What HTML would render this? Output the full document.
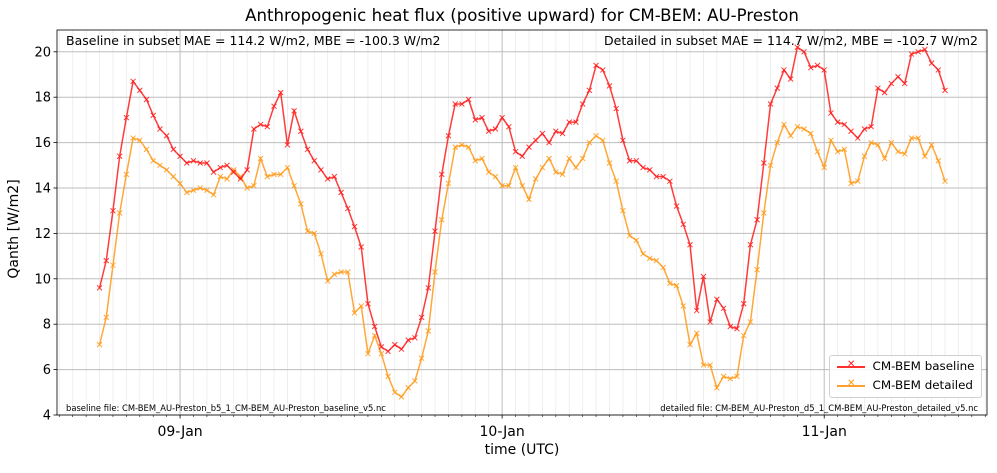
<!DOCTYPE html>
<html><head><meta charset="utf-8"><style>
body{margin:0;background:#fff;font-family:"Liberation Sans","DejaVu Sans",sans-serif}
</style></head><body>
<svg id="chart" width="997" height="468" viewBox="0 0 997 468" xmlns="http://www.w3.org/2000/svg" font-family="DejaVu Sans, Liberation Sans, sans-serif"></svg>
<script>
const startHour = -6; // 08-Jan 18:00 relative to 09-Jan 00:00
const stepHours = 0.5;
const baseline = [9.6,10.8,13.0,15.4,17.1,18.7,18.3,17.9,17.2,16.6,
16.3,15.7,15.4,15.1,15.2,15.1,15.1,14.7,14.9,15.0,
14.7,14.4,14.8,16.6,16.8,16.7,17.6,18.2,15.9,17.4,
16.5,15.7,15.2,14.8,14.4,14.5,13.8,13.1,12.3,11.4,
8.9,7.9,7.0,6.8,7.1,6.9,7.3,7.4,8.3,9.6,
12.1,14.6,16.3,17.7,17.7,17.9,17.0,17.1,16.5,16.6,
17.1,16.7,15.6,15.4,15.8,16.1,16.4,16.0,16.5,16.4,
16.9,16.9,17.7,18.3,19.4,19.2,18.5,17.5,16.1,15.2,
15.2,14.9,14.8,14.5,14.5,14.3,13.2,12.4,11.5,8.6,
10.1,8.1,9.1,8.7,7.9,7.8,8.9,11.5,12.6,15.1,
17.7,18.4,19.2,18.8,20.2,20.0,19.3,19.4,19.2,17.3,
16.9,16.8,16.5,16.2,16.6,16.7,18.4,18.2,18.6,18.9,
18.6,19.9,20.0,20.1,19.5,19.2,18.3];
const detailed = [7.1,8.3,10.6,12.9,14.6,16.2,16.1,15.7,15.2,15.0,
14.8,14.5,14.2,13.8,13.9,14.0,13.9,13.7,14.5,14.4,
14.8,14.5,14.0,14.1,15.3,14.5,14.6,14.6,14.9,14.1,
13.3,12.1,12.0,11.1,9.9,10.2,10.3,10.3,8.5,8.8,
6.7,7.5,6.7,5.7,5.0,4.8,5.2,5.5,6.5,7.7,
10.3,12.6,14.2,15.8,15.9,15.8,15.2,15.3,14.7,14.5,
14.1,14.1,14.9,14.1,13.5,14.4,14.9,15.3,14.7,14.6,
15.3,14.9,15.3,16.0,16.3,16.1,15.1,14.3,13.0,11.9,
11.7,11.1,10.9,10.8,10.5,9.8,9.7,8.8,7.1,7.6,
6.2,6.2,5.2,5.7,5.6,5.7,7.5,8.1,10.4,12.9,
15.0,16.0,16.8,16.3,16.7,16.6,16.4,15.6,14.9,16.1,
15.6,15.7,14.2,14.3,15.4,16.0,15.9,15.3,16.0,15.6,
15.5,16.2,16.2,15.4,15.9,15.2,14.3];
const yTicks = [4,6,8,10,12,14,16,18,20];
const dayTicks = [0,24,48];
const dayLabels = ["09-Jan","10-Jan","11-Jan"];

const svg = document.getElementById('chart');
const NS = 'http://www.w3.org/2000/svg';
const L=57,R=987,T=30,B=415;
const xMinH=-9.17, xMaxH=60.13, yMin=4, yMax=20.96;
function xs(h){return L+(h-xMinH)/(xMaxH-xMinH)*(R-L);}
function ys(v){return B-(v-yMin)/(yMax-yMin)*(B-T);}
function mk(tag,attrs,parent){const e=document.createElementNS(NS,tag);for(const k in attrs)e.setAttribute(k,attrs[k]);(parent||svg).appendChild(e);return e;}

for(let h=Math.ceil(xMinH);h<=xMaxH;h++){
  if(h%24===0) continue;
  const g=mk('line',{x1:xs(h),x2:xs(h),y1:T,y2:B,stroke:'#ebebeb','stroke-width':0.8});
  
  
  const t=mk('line',{x1:xs(h),x2:xs(h),y1:B,y2:B+2,stroke:'#000','stroke-width':0.6});
  
  
}
yTicks.forEach(v=>{
  const g=mk('line',{x1:L,x2:R,y1:ys(v),y2:ys(v),stroke:'#bdbdbd','stroke-width':1});
  
  
  mk('line',{x1:L-3.5,x2:L,y1:ys(v),y2:ys(v),stroke:'#000','stroke-width':0.8});
  const t=mk('text',{x:L-6,y:ys(v)+4.5,'text-anchor':'end','font-size':13});
  t.textContent=v;
  
  
});
dayTicks.forEach((h,i)=>{
  const g=mk('line',{x1:xs(h),x2:xs(h),y1:T,y2:B,stroke:'#bdbdbd','stroke-width':1});
  
  
  mk('line',{x1:xs(h),x2:xs(h),y1:B,y2:B+3.5,stroke:'#000','stroke-width':0.8});
  const t=mk('text',{x:xs(h),y:B+21,'text-anchor':'middle','font-size':14});
  t.textContent=dayLabels[i];
  
  
});

function series(vals,color,name){
  const g=mk('g',{});
  
  
  const pts=vals.map((v,i)=>[xs(startHour+i*stepHours),ys(v)]);
  mk('polyline',{points:pts.map(p=>p.join(',')).join(' '),fill:'none',stroke:color,'stroke-width':1.5,'stroke-opacity':0.85},g);
  pts.forEach(p=>{
    const m=mk('path',{d:`M${p[0]-2.5},${p[1]-2.5}L${p[0]+2.5},${p[1]+2.5}M${p[0]-2.5},${p[1]+2.5}L${p[0]+2.5},${p[1]-2.5}`,stroke:color,'stroke-width':1,'stroke-opacity':0.85},g);
    
    
  });
}
series(detailed,'#ff9916','series-detailed');
series(baseline,'#ff1a1a','series-baseline');

const frame=mk('rect',{x:L,y:T,width:R-L,height:B-T,fill:'none',stroke:'#000','stroke-width':0.8});


</script>
<div style="position:absolute;left:0;top:0;width:997px;height:468px;pointer-events:none;font-family:'DejaVu Sans','Liberation Sans',sans-serif">
<div style="position:absolute;left:0;width:1044px;top:6px;text-align:center;font-size:16.6px;white-space:nowrap">Anthropogenic heat flux (positive upward) for CM-BEM: AU-Preston</div>
<div style="position:absolute;left:66px;top:33px;font-size:12.5px;white-space:nowrap">Baseline in subset MAE = 114.2 W/m2, MBE = -100.3 W/m2</div>
<div style="position:absolute;right:19px;top:33px;font-size:12.5px;white-space:nowrap">Detailed in subset MAE = 114.7 W/m2, MBE = -102.7 W/m2</div>
<div style="position:absolute;left:66px;top:403px;font-size:8.4px;white-space:nowrap">baseline file: CM-BEM_AU-Preston_b5_1_CM-BEM_AU-Preston_baseline_v5.nc</div>
<div style="position:absolute;right:19px;top:403px;font-size:8.4px;white-space:nowrap">detailed file: CM-BEM_AU-Preston_d5_1_CM-BEM_AU-Preston_detailed_v5.nc</div>
<div style="position:absolute;left:5px;top:221px;font-size:14px;transform:translate(-41px,0) rotate(-90deg);width:100px;text-align:center;white-space:nowrap">Qanth [W/m2]</div>
<div style="position:absolute;left:0;width:1044px;top:442px;text-align:center;font-size:14px">time (UTC)</div>
<div style="position:absolute;left:829px;top:355px;width:151px;height:41px;border:1px solid #d0d0d0;border-radius:3px;background:rgba(255,255,255,0.85);font-size:11.9px">
 <div style="position:absolute;left:7px;top:3px;white-space:nowrap"><span style="display:inline-block;width:28px;height:2px;background:#ff3030;vertical-align:middle;position:relative"><span style="position:absolute;left:10px;top:-7px;color:#ff1a1a;font-size:10px">✕</span></span> &nbsp;CM-BEM baseline</div>
 <div style="position:absolute;left:7px;top:22px;white-space:nowrap"><span style="display:inline-block;width:28px;height:2px;background:#ffa030;vertical-align:middle;position:relative"><span style="position:absolute;left:10px;top:-7px;color:#ff9916;font-size:10px">✕</span></span> &nbsp;CM-BEM detailed</div>
</div>
</div>
</body></html>
